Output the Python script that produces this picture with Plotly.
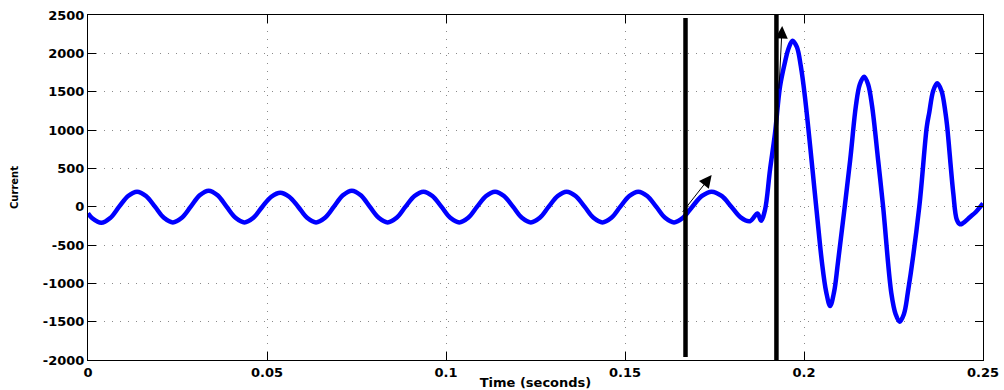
import plotly.graph_objects as go

# Sampled current waveform (time in s, current in A)
time_s = [
    0.0000, 0.0012, 0.0037, 0.0062, 0.0087, 0.0112, 0.0137, 0.0162, 0.0187, 0.0212,
    0.0237, 0.0262, 0.0287, 0.0312, 0.0337, 0.0362, 0.0387, 0.0412,
    0.0437, 0.0462, 0.0487, 0.0512, 0.0537, 0.0562, 0.0587, 0.0612,
    0.0637, 0.0662, 0.0687, 0.0712, 0.0737, 0.0762, 0.0787, 0.0812,
    0.0837, 0.0862, 0.0887, 0.0912, 0.0937, 0.0962, 0.0987, 0.1012,
    0.1037, 0.1062, 0.1087, 0.1112, 0.1137, 0.1162, 0.1187, 0.1212,
    0.1237, 0.1262, 0.1287, 0.1312, 0.1337, 0.1362, 0.1387, 0.1412,
    0.1437, 0.1462, 0.1487, 0.1512, 0.1537, 0.1562, 0.1587, 0.1612,
    0.1637, 0.1662, 0.1688, 0.1715, 0.1742, 0.1770, 0.1797, 0.1823,
    0.1849, 0.1870, 0.1880, 0.1891, 0.1905, 0.1919, 0.1933,
    0.1947, 0.1957, 0.1968, 0.1980, 0.1991, 0.2003, 0.2035,
    0.2050, 0.2062, 0.2073, 0.2084, 0.2095, 0.2129,
    0.2145, 0.2156, 0.2168, 0.2179, 0.2190, 0.2207, 0.2221,
    0.2244, 0.2256, 0.2267, 0.2279, 0.2290, 0.2322,
    0.2343, 0.2350, 0.2361, 0.2372, 0.2384, 0.2395, 0.2400, 0.2417, 0.2427,
    0.2436, 0.2444, 0.2464, 0.2480, 0.2500,
]
current_a = [
    -85, -150, -210, -148, 0, 140, 196, 140, 0, -145,
    -205, -145, 0, 148, 209, 148, 0, -145,
    -205, -145, 0, 130, 183, 130, 0, -145,
    -205, -145, 0, 148, 209, 148, 0, -145,
    -205, -145, 0, 140, 196, 140, 0, -145,
    -205, -145, 0, 140, 196, 140, 0, -145,
    -205, -145, 0, 140, 196, 140, 0, -145,
    -205, -145, 0, 140, 196, 140, 0, -145,
    -205, -145, 0, 140, 196, 140, 0, -140,
    -190, -90, -183, -43, 479, 957, 1565,
    1887, 2067, 2165, 2083, 1835, 1418, -43,
    -721, -1113, -1295, -1113, -721, 609,
    1317, 1598, 1696, 1598, 1317, 609, 0,
    -1130, -1402, -1500, -1402, -1122, 0,
    1043, 1231, 1512, 1609, 1512, 1231, 1043, 174, -173,
    -230, -215, -134, -69, 42,
]

# Switching instants marked by vertical bars
event_times = [0.1669, 0.1923]
event_bottom = [-1960, -2000]
event_top = [2460, 2540]

# Arrow pointers (tail -> head)
arrow_tail_t = [0.1658, 0.1930]
arrow_tail_i = [-87, 1520]
arrow_head_t = [0.1742, 0.1939]
arrow_head_i = [413, 2357]

x_ticks = [0, 0.05, 0.1, 0.15, 0.2, 0.25]
x_labels = ["0", "0.05", "0.1", "0.15", "0.2", "0.25"]
y_ticks = [-2000, -1500, -1000, -500, 0, 500, 1000, 1500, 2000, 2500]
y_labels = ["-2000", "-1500", "-1000", "-500", "0", "500", "1000", "1500", "2000", "2500"]

fig = go.Figure()
fig.add_trace(go.Scatter(
    x=time_s, y=current_a, mode="lines",
    line=dict(color="#0000ff", width=4.5, shape="spline", smoothing=1.0),
    showlegend=False, hoverinfo="skip",
))

for t, y0, y1 in zip(event_times, event_bottom, event_top):
    fig.add_shape(type="line", xref="x", yref="y", x0=t, x1=t, y0=y0, y1=y1,
                  line=dict(color="black", width=4.5), layer="above")

for tt, ti, ht, hi in zip(arrow_tail_t, arrow_tail_i, arrow_head_t, arrow_head_i):
    fig.add_annotation(x=ht, y=hi, ax=tt, ay=ti, xref="x", yref="y",
                       axref="x", ayref="y", text="", showarrow=True,
                       arrowhead=2, arrowsize=2.5, arrowwidth=1, arrowcolor="black")

tick_font = dict(family="DejaVu Sans", size=13, color="black", weight="bold")
axis_common = dict(
    showline=True, linecolor="black", linewidth=1, mirror="allticks",
    ticks="inside", ticklen=8, tickcolor="black", tickwidth=1,
    showgrid=True, gridcolor="#8a8a8a", gridwidth=1, griddash="1px,7px",
    zeroline=False, tickfont=tick_font, automargin=False,
)

fig.update_layout(
    width=1004, height=390,
    margin=dict(l=88, r=21, t=15, b=30),
    paper_bgcolor="white", plot_bgcolor="white",
    xaxis=dict(range=[0, 0.25], tickvals=x_ticks, ticktext=x_labels,
               title=dict(text="Time (seconds)", standoff=0,
                          font=dict(family="DejaVu Sans", size=13, color="black", weight="bold")),
               **axis_common),
    yaxis=dict(range=[-2000, 2500], tickvals=y_ticks, ticktext=y_labels,
               title=dict(text="Current", standoff=22,
                          font=dict(family="DejaVu Sans", size=10, color="black", weight="bold")),
               **axis_common),
)

fig.write_html("out.html")
